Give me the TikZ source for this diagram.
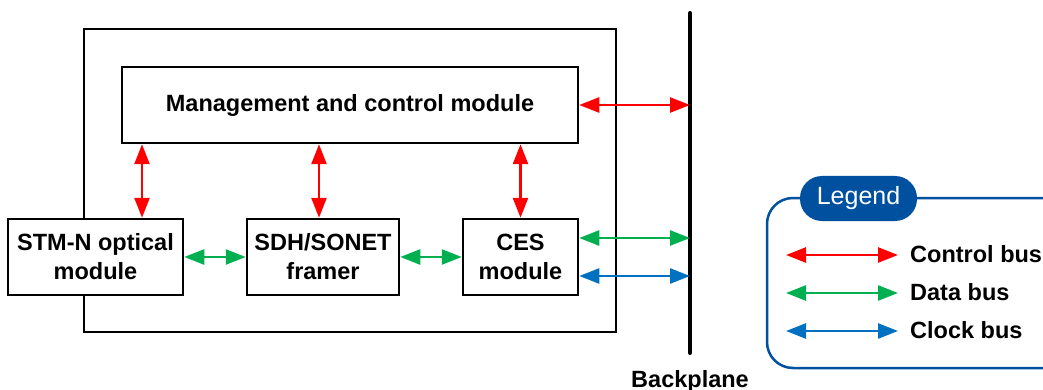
\documentclass[tikz,border=0pt]{standalone}
\usepackage{fontspec}
\setmainfont{Liberation Sans}
\usetikzlibrary{arrows.meta}
\definecolor{cred}{RGB}{255,0,0}
\definecolor{cgreen}{RGB}{0,176,80}
\definecolor{cblue}{RGB}{0,112,192}
\definecolor{legblue}{RGB}{0,80,160}
\tikzset{
  box/.style={draw=black, line width=2.5pt, fill=white, align=center, inner sep=0pt,
    font=\fontsize{23.5}{29}\selectfont\bfseries},
  bus/.style={line width=2.5pt, {Triangle[length=20pt,width=15pt]}-{Triangle[length=20pt,width=15pt]}},
  ctrl/.style={bus, draw=cred, fill=cred},
  data/.style={bus, draw=cgreen, fill=cgreen},
  clk/.style={bus, draw=cblue, fill=cblue},
  lbl/.style={font=\fontsize{23.5}{29}\selectfont\bfseries, inner sep=0pt},
}
\begin{document}
\begin{tikzpicture}[x=1pt,y=-1pt]
\useasboundingbox (0,0) rectangle (1043,390);
\clip (0,0) rectangle (1043,390);
% outer card
\node[draw=black, line width=2.5pt, minimum width=532pt, minimum height=303pt, inner sep=0pt] (outer) at (350,180.5) {};
% modules
\node[box, minimum width=456pt, minimum height=76pt] (mgmt) at (350,105) {Management and control module};
\node[box, minimum width=175pt, minimum height=76pt] (stm) at (95.5,257) {STM-N optical\\module};
\node[box, minimum width=152pt, minimum height=76pt] (sdh) at (323,257) {SDH/SONET\\framer};
\node[box, minimum width=115pt, minimum height=76pt] (ces) at (520.5,257) {CES\\module};
% backplane
\coordinate (bptop) at (690,13);
\coordinate (bpbot) at (690,353);
\draw[line width=4pt, line cap=round] (bptop) -- (bpbot);
\node[lbl, anchor=base] (bplbl) at (690,387) {Backplane};
% control buses
\draw[ctrl] ([xshift=46.5pt]stm.north) -- ([xshift=46.5pt]stm.north |- mgmt.south);
\draw[ctrl] ([xshift=-4pt]sdh.north) -- ([xshift=-4pt]sdh.north |- mgmt.south);
\draw[ctrl] (ces.north) -- (ces.north |- mgmt.south);
\draw[ctrl] (mgmt.east) -- (mgmt.east -| bptop);
% data buses
\draw[data] (stm.east) -- (sdh.west);
\draw[data] (sdh.east) -- (ces.west);
\draw[data] ([yshift=19pt]ces.east) -- ([yshift=19pt]ces.east -| bptop);
% clock bus
\draw[clk] ([yshift=-19pt]ces.east) -- ([yshift=-19pt]ces.east -| bptop);
% legend
\draw[draw=legblue, line width=2.5pt, rounded corners=26pt] (767,198) rectangle (1075,368);
\node[fill=legblue, rounded corners=22pt, minimum width=117pt, minimum height=45pt, inner sep=0pt,
  text=white, font=\fontsize{25}{29}\selectfont] (leg) at (858.5,198.5) {Legend};
\node[lbl, anchor=west] (lc) at (910,254) {Control bus};
\node[lbl, anchor=west] (ld) at (910,292) {Data bus};
\node[lbl, anchor=west] (lk) at (910,330) {Clock bus};
\coordinate (lc0) at (786,255);
\coordinate (ld0) at (786,293);
\coordinate (lk0) at (786,331);
\draw[ctrl] (lc0) -- (lc0 -| 898,0);
\draw[data] (ld0) -- (ld0 -| 898,0);
\draw[clk] (lk0) -- (lk0 -| 898,0);
\end{tikzpicture}
\end{document}
